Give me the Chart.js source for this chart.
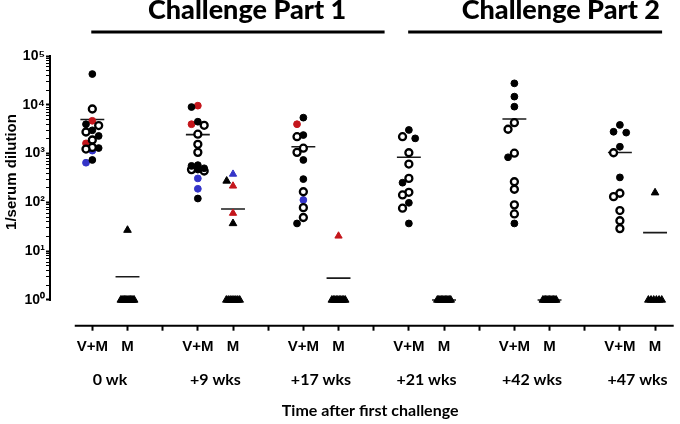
<!DOCTYPE html>
<html><head><meta charset="utf-8">
<script src="https://cdn.jsdelivr.net/npm/chart.js@4.4.1/dist/chart.umd.min.js"></script>
<style>html,body{margin:0;padding:0;background:#fff}</style>
</head><body>
<canvas id="c" width="680" height="424"></canvas>
<script>
// ---------- data ----------
const weekLabels = ['0 wk', '+9 wks', '+17 wks', '+21 wks', '+42 wks', '+47 wks'];
const groupLabels = ['V+M', 'M'];
const partTitles = ['Challenge Part 1', 'Challenge Part 2'];
const yTitle = '1/serum dilution';
const xTitle = 'Time after first challenge';
const yExponents = [0, 1, 2, 3, 4, 5];

// V+M animals (circles), one list per time point
const vmBlack = [
  [42700, 4000, 3000, 2300, 1300, 740],
  [9000, 4500, 580, 560, 500, 470, 120],
  [5450, 2400, 740, 300, 37],
  [3050, 2050, 253, 98, 37],
  [27500, 14700, 9150, 840, 37],
  [3870, 2800, 2690, 1380, 325]
];
const vmOpen = [
  [8200, 3750, 2770, 1900, 1340, 1240],
  [3800, 2500, 1550, 1060, 470, 440],
  [2220, 1290, 1060, 165, 78, 49],
  [2220, 1040, 610, 310, 161, 142, 76],
  [4300, 3150, 1020, 265, 186, 89, 58],
  [1040, 154, 131, 68, 42, 29]
];
const vmRed = [[4700, 1620], [9600, 4000], [4000], [], [], []];
const vmBlue = [[1150, 650], [310, 190], [112], [], [], []];

// M animals (triangles), one list per time point
const mBlack = [
  [27, 1, 1, 1, 1, 1, 1, 1, 1, 1, 1, 1, 1],
  [275, 37, 1, 1, 1, 1, 1, 1, 1, 1],
  [1, 1, 1, 1, 1, 1, 1, 1, 1, 1],
  [1, 1, 1, 1, 1, 1, 1, 1, 1, 1, 1],
  [1, 1, 1, 1, 1, 1, 1, 1, 1, 1, 1],
  [158, 1, 1, 1, 1, 1, 1]
];
const mRed = [[], [217, 60], [20.5], [], [], []];
const mBlue = [[], [380], [], [], [], []];

// group means (horizontal bars)
const vmMean = [5000, 2450, 1380, 840, 5100, 1050];
const mMean = [3.0, 73, 2.8, 1, 1, 24];

// ---------- styling ----------
const RED = '#c4161c', BLUE = '#3434c8';
const kinds = {
  black:  {pointStyle: 'circle',   r: 3.4, bg: '#000', bc: '#000', bw: 1},
  open:   {pointStyle: 'circle',   r: 3.5, bg: '#fff', bc: '#000', bw: 2.3},
  red:    {pointStyle: 'circle',   r: 3.4, bg: RED,    bc: RED,    bw: 1},
  blue:   {pointStyle: 'circle',   r: 3.4, bg: BLUE,   bc: BLUE,   bw: 1},
  tBlack: {pointStyle: 'triangle', r: 4.4, bg: '#000', bc: '#000', bw: 1},
  tRed:   {pointStyle: 'triangle', r: 4.2, bg: RED,    bc: RED,    bw: 1},
  tBlue:  {pointStyle: 'triangle', r: 4.2, bg: BLUE,   bc: BLUE,   bw: 1}
};

// simple non-overlapping (beeswarm-like) horizontal spread within a group
const PX_X = 35.5, PX_DEC = 48.8;
function spread(points) {
  const counts = {};
  points.forEach(p => counts[p.v] = (counts[p.v] || 0) + 1);
  const tieSeen = {};
  const order = points.map((p, i) => i).sort((a, b) => points[b].v - points[a].v);
  const placed = [];
  const offs = new Array(points.length).fill(0);
  const cands = [0, -0.18, 0.18];
  order.forEach(i => {
    const p = points[i], c = counts[p.v];
    if (c >= 3) {
      const k = tieSeen[p.v] = (tieSeen[p.v] === undefined ? 0 : tieSeen[p.v] + 1);
      offs[i] = -0.19 + 0.38 * k / (c - 1);
      return;
    }
    let best = 0, bestD = -1;
    for (const o of cands) {
      let d = Infinity;
      placed.forEach(q => {
        d = Math.min(d, Math.hypot((o - q.o) * PX_X, (Math.log10(p.v) - Math.log10(q.v)) * PX_DEC));
      });
      if (d >= 7) { best = o; bestD = d; break; }
      if (d > bestD) { bestD = d; best = o; }
    }
    offs[i] = best;
    placed.push({o: best, v: p.v});
  });
  return offs;
}

const buckets = {};
Object.keys(kinds).forEach(k => buckets[k] = []);
function addGroup(center, lists) {
  const pts = [];
  lists.forEach(([kind, vals]) => vals.forEach(v => pts.push({v, kind})));
  const offs = spread(pts);
  pts.forEach((p, i) => buckets[p.kind].push({x: center + offs[i], y: p.v}));
}
weekLabels.forEach((w, t) => {
  addGroup(3 * t, [['black', vmBlack[t]], ['open', vmOpen[t]], ['red', vmRed[t]], ['blue', vmBlue[t]]]);
  addGroup(3 * t + 1, [['tBlack', mBlack[t]], ['tRed', mRed[t]], ['tBlue', mBlue[t]]]);
});

const datasets = [];
Object.keys(kinds).forEach(k => {
  const s = kinds[k];
  datasets.push({
    type: 'scatter', data: buckets[k], pointStyle: s.pointStyle, pointRadius: s.r,
    backgroundColor: s.bg, borderColor: s.bc, pointBorderWidth: s.bw, borderWidth: s.bw, order: 1
  });
});
const HALF = 0.34;
weekLabels.forEach((w, t) => {
  [[3 * t, vmMean[t]], [3 * t + 1, mMean[t]]].forEach(([c, m]) => {
    datasets.push({
      type: 'line', data: [{x: c - HALF, y: m}, {x: c + HALF, y: m}],
      borderColor: '#1a1a1a', borderWidth: 1.6, pointRadius: 0, order: 5
    });
  });
});

const SUP = ['\u2070', '\u00b9', '\u00b2', '\u00b3', '\u2074', '\u2075'];
const XMIN = -1.2036, XMAX = 16.53;

const decor = {
  id: 'decor',
  afterDraw(chart) {
    const {ctx, chartArea: a, scales: {x, y}} = chart;
    ctx.save();
    ctx.strokeStyle = '#000';
    ctx.lineWidth = 2;
    const y0 = y.getPixelForValue(Math.pow(10, yExponents[0]));
    const y5 = y.getPixelForValue(Math.pow(10, yExponents[yExponents.length - 1]));
    ctx.beginPath(); ctx.moveTo(a.left, y0 + 1); ctx.lineTo(a.left, y5 - 1); ctx.stroke();
    ctx.beginPath(); ctx.moveTo(x.getPixelForValue(-0.5), a.bottom); ctx.lineTo(a.right, a.bottom); ctx.stroke();
    // challenge part bars + titles
    const bars = [[-0.03, 8.31, 4.40], [8.98, 16.2, 13.32]];
    ctx.lineWidth = 3;
    ctx.fillStyle = '#000';
    ctx.font = '900 27px Lato';
    ctx.textAlign = 'center';
    ctx.textBaseline = 'alphabetic';
    bars.forEach(([s, e, c], i) => {
      ctx.beginPath(); ctx.moveTo(x.getPixelForValue(s), 32); ctx.lineTo(x.getPixelForValue(e), 32); ctx.stroke();
      ctx.fillText(partTitles[i], x.getPixelForValue(c), 19);
    });
    // axis titles
    ctx.font = 'bold 15px "Liberation Sans"';
    ctx.textBaseline = 'middle';
    ctx.save();
    ctx.translate(12, (y0 + y5) / 2 - 6);
    ctx.rotate(-Math.PI / 2);
    ctx.fillText(yTitle, 0, 0);
    ctx.restore();
    ctx.font = 'bold 16px Lato';
    ctx.fillText(xTitle, x.getPixelForValue(7.9), 411);
    ctx.restore();
  }
};

new Chart(document.getElementById('c'), {
  type: 'scatter',
  data: {datasets},
  plugins: [decor],
  options: {
    responsive: false, animation: false,
    layout: {padding: {top: 56, left: 0, right: 0, bottom: 0}},
    plugins: {legend: {display: false}, tooltip: {enabled: false}},
    scales: {
      x: {
        type: 'linear', position: 'bottom', min: XMIN, max: XMAX, weight: 1,
        afterBuildTicks: ax => { ax.ticks = Array.from({length: 17}, (_, i) => ({value: i})); },
        afterFit: s => { s.height = 42; },
        border: {display: false},
        grid: {drawOnChartArea: false, drawTicks: true, tickLength: 5, tickColor: '#000', tickWidth: 2},
        ticks: {
          autoSkip: false, maxRotation: 0, padding: 7, color: '#000',
          font: {family: '"Liberation Sans"', size: 15, weight: 'bold'},
          callback: v => { const r = Math.round(v) % 3; return r === 2 ? '' : groupLabels[r]; }
        }
      },
      x2: {
        type: 'linear', position: 'bottom', min: XMIN, max: XMAX, weight: 2,
        afterBuildTicks: ax => { ax.ticks = weekLabels.map((_, i) => ({value: 3 * i + 0.5})); },
        afterFit: s => { s.height = 56.3; },
        border: {display: false},
        grid: {display: false, drawTicks: false},
        ticks: {
          autoSkip: false, maxRotation: 0, padding: 3, color: '#000',
          font: {family: 'Lato', size: 16, weight: 'bold'},
          callback: (v, i) => weekLabels[i]
        }
      },
      y: {
        type: 'logarithmic', position: 'left', min: 0.297, max: 1e5,
        afterBuildTicks: ax => {
          const t = [];
          yExponents.forEach(e => {
            t.push({value: Math.pow(10, e), major: true});
            if (e < yExponents[yExponents.length - 1]) for (let m = 2; m <= 9; m++) t.push({value: m * Math.pow(10, e)});
          });
          ax.ticks = t;
        },
        afterFit: s => { s.width = 50; },
        border: {display: false},
        grid: {
          drawOnChartArea: false, drawTicks: true, tickLength: 4, tickColor: '#000',
          tickWidth: c => (c.tick && c.tick.major) ? 2 : 1
        },
        ticks: {
          autoSkip: false, padding: 1, color: '#000',
          font: {family: '"Liberation Sans"', size: 14, weight: 'bold'},
          callback: v => {
            const e = Math.log10(v);
            return Math.abs(e - Math.round(e)) < 1e-9 ? '10' + SUP[Math.round(e)] : '';
          }
        }
      }
    }
  }
});
</script>
</body></html>
